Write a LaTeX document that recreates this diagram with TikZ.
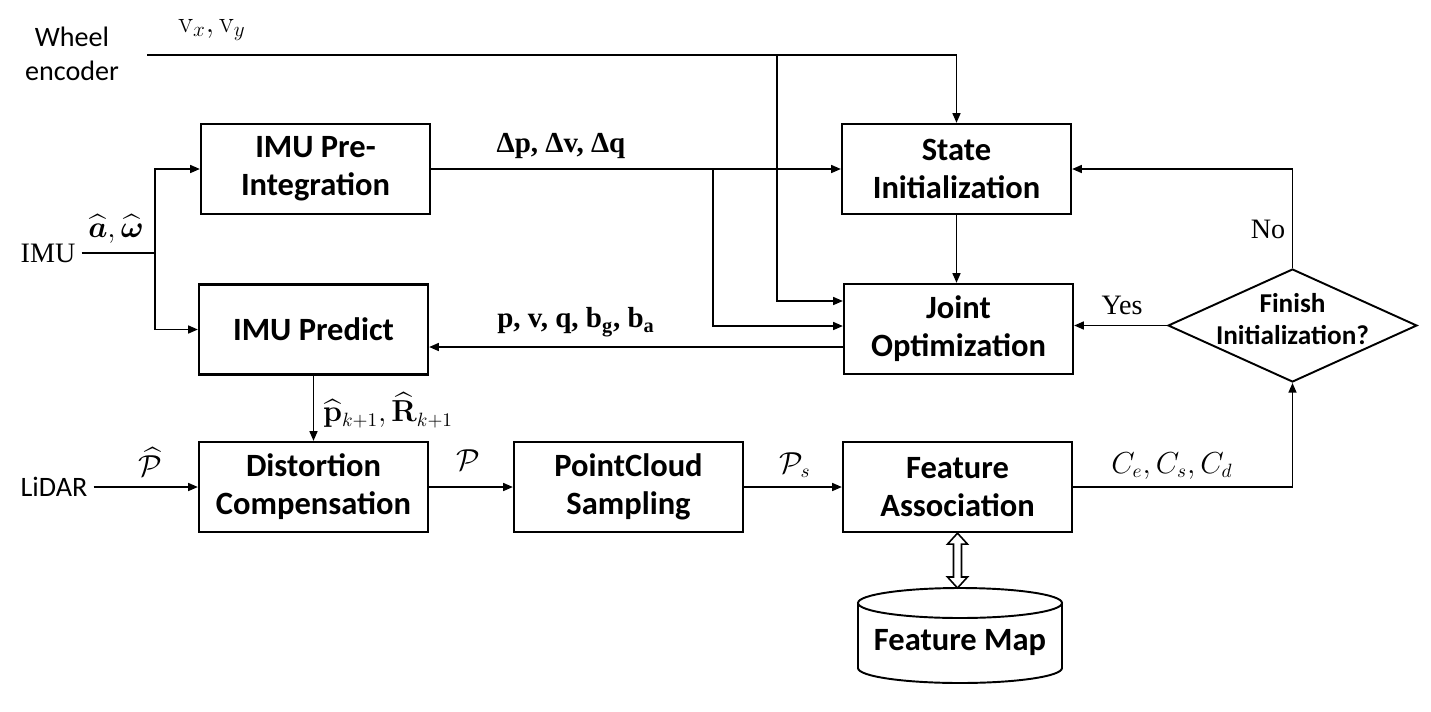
\documentclass[tikz,border=0pt]{standalone}
\usepackage{amsmath}
\usepackage{bm}
\usepackage[no-math]{fontspec}
\setmainfont{Carlito}
\newfontfamily\serifwords{Liberation Serif}
\usetikzlibrary{calc}
\usetikzlibrary{positioning}
\usetikzlibrary{arrows.meta}
\usetikzlibrary{shapes.geometric}

\begin{document}
\begin{tikzpicture}[%
  x=0.02cm, y=-0.02cm,
  >={Triangle[length=5.5pt,width=4.5pt]},
  block/.style={draw, line width=1.3pt, minimum width=4.58cm, minimum height=1.8cm,
    inner sep=0pt, align=center, font=\fontsize{18.5}{21.5}\selectfont\bfseries},
  decide/.style={draw, diamond, line width=1.1pt, minimum width=4.98cm,
    minimum height=2.26cm, inner sep=0pt},
  dbase/.style={line width=1.1pt},
  flow/.style={line width=0.9pt},
  srcword/.style={align=center, font=\fontsize{16}{19.3}\selectfont},
  serifword/.style={font=\serifwords\fontsize{16}{19}\selectfont},
  lbl/.style={inner sep=1pt, font=\fontsize{16}{19}\selectfont},
  boldlbl/.style={inner sep=1pt, font=\serifwords\bfseries\fontsize{16.5}{19}\selectfont},
]

  \useasboundingbox (0,0) rectangle (1431,711);

  % sources
  \node[srcword] (wheel) at (72,54) {Wheel\\encoder};
  \node[serifword] (imu) at (48,253) {IMU};
  \node[srcword] (lidar) at (54,487) {LiDAR};

  % blocks
  \node[block] (preint) at (315.5,169) {IMU Pre-\\Integration};
  \node[block] (predict) at (313.5,329.5) {IMU Predict};
  \node[block] (distort) at (313.5,487) {Distortion\\Compensation};
  \node[block] (pcsample) at (628.5,487) {PointCloud\\Sampling};
  \node[block] (fassoc) at (957.5,487) {Feature\\Association};
  \node[block] (stateinit) at (956.5,169) {State\\Initialization};
  \node[block] (jointopt) at (958.5,329) {Joint\\Optimization};
  \node[decide] (finish) at (1292.5,325.5) {};
  \node[align=center, font=\fontsize{15.5}{18.2}\selectfont\bfseries] (finishtxt)
    at (1292.5,319) {Finish\\Initialization?};

  % feature map drum
  \node[font=\fontsize{18.5}{21.5}\selectfont\bfseries] (featmap) at (960,643) {Feature Map};
  \draw[dbase] (858,603) -- (858,668) arc[start angle=180, end angle=0,
    x radius=102, y radius=15] -- (1062,603);
  \draw[dbase] (960,603) ellipse [x radius=102, y radius=15];
  \coordinate (maptop) at (fassoc.south |- 0,588);

  \coordinate (wheelout) at (147,55);
  \coordinate (wheelsplit) at (777,55);
  \coordinate (imusplit) at (155,253);
  \coordinate (deltasplit) at (713,169);
  \coordinate (stateback) at ($(jointopt.west)+(0,18)$);

  % wheel encoder
  \draw[flow] (wheelout) -- (wheelsplit);
  \draw[flow,->] (wheelsplit) -| (stateinit.north);
  \draw[flow,->] (wheelsplit) |- ($(jointopt.west)+(0,-28)$);
  \node[lbl, font=\fontsize{17}{19}\selectfont] at (212,30) {$\mathrm{v}_x,\mathrm{v}_y$};

  % imu
  \draw[flow] (imu) -- (imusplit);
  \draw[flow,->] (imusplit) |- (preint.west);
  \draw[flow,->] (imusplit) |- (predict.west);
  \node[lbl] at (116,229) {$\bm{\widehat{a}},\bm{\widehat{\omega}}$};

  \draw[flow,->] (preint) -- (stateinit);
  \draw[flow,->] (deltasplit) |- ($(jointopt.west)+(0,-3)$);
  \node[boldlbl] at (561,146) {Δp, Δv, Δq};

  \draw[flow,->] (stateinit) -- (stateinit |- jointopt.north);
  \draw[flow,->] (stateback) -- (stateback -| predict.east);
  \node[boldlbl] at (576,322) {p, v, q, b\textsubscript{g}, b\textsubscript{a}};

  \draw[flow,->] (predict) -- (distort);
  \node[lbl] at (388,410) {$\widehat{\mathbf{p}}_{k+1},\widehat{\mathbf{R}}_{k+1}$};

  % lidar chain
  \draw[flow,->] (lidar) -- (distort);
  \node[lbl] at (150,462) {$\widehat{\mathcal{P}}$};
  \draw[flow,->] (distort) -- (pcsample);
  \node[lbl] at (468,460) {$\mathcal{P}$};
  \draw[flow,->] (pcsample) -- (fassoc);
  \node[lbl] at (795,465) {$\mathcal{P}_s$};
  \draw[flow,->] (fassoc) -| (finish);
  \node[lbl] at (1172,466) {$C_e,C_s,C_d$};

  % decision
  \draw[flow,->] (finish.west) -- (finish.west -| jointopt.east);
  \node[serifword] at (1122,305) {Yes};
  \draw[flow,->] (finish) |- (stateinit);
  \node[serifword] at (1268,229) {No};

  % map access, hollow double arrow
  \draw[flow] (fassoc.south) -- ++(10,11) -- ++(-6,0) -- ($(maptop)+(4,-11)$)
    -- ++(6,0) -- (maptop) -- ++(-10,-11) -- ++(6,0) -- ($(fassoc.south)+(-4,11)$)
    -- ++(-6,0) -- cycle;

\end{tikzpicture}
\end{document}
